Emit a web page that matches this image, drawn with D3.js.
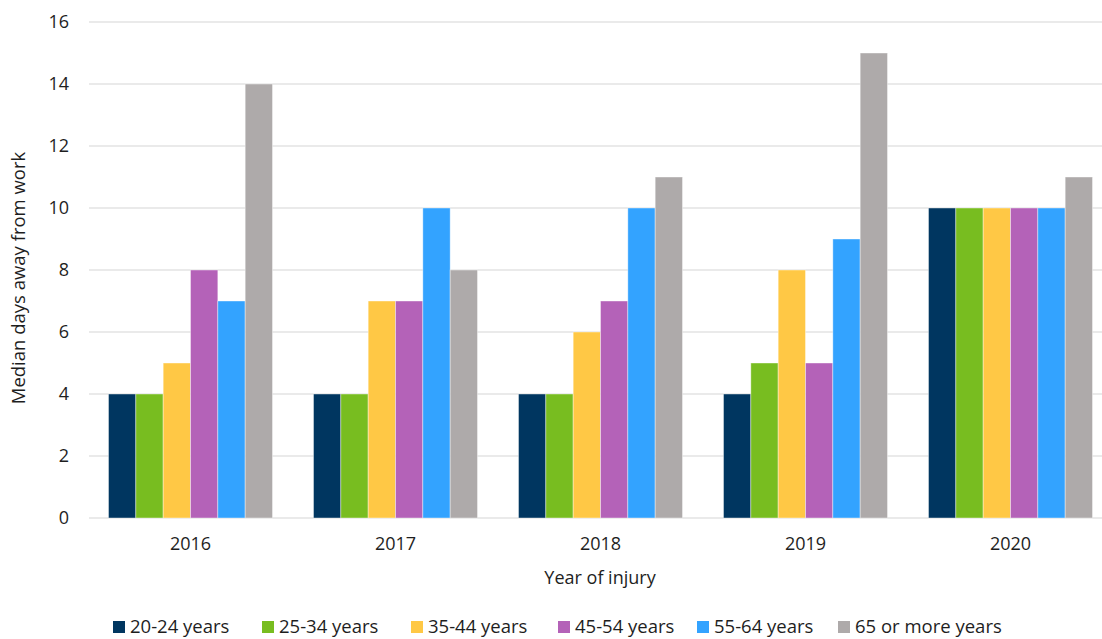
<!DOCTYPE html>
<html><head><meta charset="utf-8">
<script src="https://cdn.jsdelivr.net/npm/d3@7"></script>
<style>body{margin:0;background:#fff}svg{display:block;font-family:"Open Sans","Noto Sans",sans-serif}</style>
</head><body><svg id="c" width="1102" height="639"></svg>
<script>
const years = ["2016","2017","2018","2019","2020"];
const ageGroups = ["20-24 years","25-34 years","35-44 years","45-54 years","55-64 years","65 or more years"];
const colors = ["#003660","#78bd20","#ffc845","#b462b8","#33a3ff","#aeaaaa"];
const age20_24 = [4,4,4,4,10];
const age25_34 = [4,4,4,5,10];
const age35_44 = [5,7,6,8,10];
const age45_54 = [8,7,7,5,10];
const age55_64 = [7,10,10,9,10];
const age65plus = [14,8,11,15,11];
const series = [age20_24,age25_34,age35_44,age45_54,age55_64,age65plus];
const yTicks = [0,2,4,6,8,10,12,14,16];

const txt = "#1e1e1e";
const svg = d3.select("#c");
const y = d3.scaleLinear().domain([0,16]).range([518,22]);
const x = d3.scaleBand().domain(years).range([88,1113]).paddingInner(0.2).paddingOuter(0.1);
const x1 = d3.scaleBand().domain(d3.range(ageGroups.length)).range([0,x.bandwidth()]);

// gridlines
svg.append("g").selectAll("line").data(yTicks).join("line")
  .attr("x1",89).attr("x2",1102).attr("y1",d=>y(d)).attr("y2",d=>y(d))
  .attr("stroke","#e3e3e3").attr("stroke-width",1.5);

// y axis labels
const ya = svg.append("g").attr("transform","translate(69,0)")
  .call(d3.axisLeft(y).tickValues(yTicks).tickSize(0).tickPadding(0));
ya.select(".domain").remove();
ya.selectAll("text").attr("font-size",18).attr("fill",txt).attr("font-family","Open Sans, Noto Sans, sans-serif");

// bars
const g = svg.append("g");
years.forEach((yr,i)=>{
  series.forEach((s,j)=>{
    g.append("rect")
      .attr("x",x(yr)+x1(j)).attr("width",x1.bandwidth())
      .attr("y",y(s[i])).attr("height",y(0)-y(s[i]))
      .attr("fill",colors[j]).attr("stroke","#ffffff").attr("stroke-opacity",0.5).attr("stroke-width",0.8);
  });
});

// x axis
const xa = svg.append("g").attr("transform","translate(0,518)")
  .call(d3.axisBottom(x).tickSize(0).tickPadding(19));
xa.select(".domain").remove();
xa.selectAll("text").attr("font-size",18).attr("fill",txt).attr("font-family","Open Sans, Noto Sans, sans-serif");

// titles
svg.append("text").attr("x",600).attr("y",584).attr("text-anchor","middle")
  .attr("font-size",18).attr("fill",txt).text("Year of injury");
svg.append("text").attr("transform","translate(25,278) rotate(-90)").attr("text-anchor","middle")
  .attr("font-size",18.5).attr("fill",txt).text("Median days away from work");

// legend
const legX = [113,262,411,558,697,838];
const leg = svg.append("g");
ageGroups.forEach((a,j)=>{
  leg.append("rect").attr("x",legX[j]).attr("y",621).attr("width",12).attr("height",12).attr("fill",colors[j]);
  leg.append("text").attr("x",legX[j]+17).attr("y",633).attr("font-size",18.5).attr("fill",txt).text(a);
});
</script></body></html>
